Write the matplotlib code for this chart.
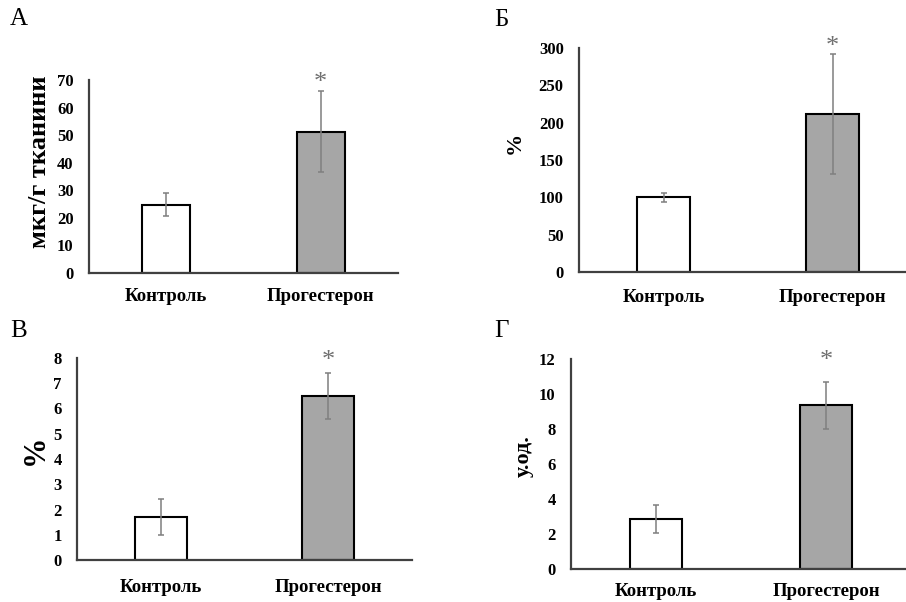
import numpy as np
import matplotlib.pyplot as plt

plt.rcParams['font.family'] = ['Liberation Serif', 'DejaVu Serif']

groups = ['Контроль', 'Прогестерон']
panel_letters = ['А', 'Б', 'В', 'Г']
ylabels = ['мкг/г тканини', '%', '%', 'у.од.']

vals_a = [24.8, 51.3]
err_a = [4.2, 14.6]
vals_b = [100, 212]
err_b = [6, 80.5]
vals_c = [1.7, 6.5]
err_c = [0.72, 0.92]
vals_d = [2.88, 9.35]
err_d = [0.8, 1.35]

ymax = [70, 300, 8, 12]
ystep = [10, 50, 1, 2]
star_y = [69, 302, 7.9, 11.9]

W, H = 906, 602
fig = plt.figure(figsize=(W / 100, H / 100), dpi=100)


def px_axes(x0, ytop, x1, ybot):
    return fig.add_axes([x0 / W, 1 - ybot / H, (x1 - x0) / W, (ybot - ytop) / H])


# axes boxes in pixels: left, top, right, bottom
boxes = [(89, 80, 398, 273), (579, 48, 917, 272), (77, 358, 412, 560), (571, 359, 911, 569)]
letter_pos = [(10, 19), (494, 20), (10, 331), (494, 331)]
ylab_pos = [(40, 162), (515, 143), (35, 450), (524, 456)]
ylab_size = [19, 16, 22, 16]
xpad = [11, 12, 14, 10]
data = [(vals_a, err_a), (vals_b, err_b), (vals_c, err_c), (vals_d, err_d)]

for i, (vals, errs) in enumerate(data):
    ax = px_axes(*boxes[i])
    x = np.arange(len(groups))
    ax.bar(x, vals, width=0.31, color=['white', '#a6a6a6'], edgecolor='black',
           linewidth=1.5, zorder=2)
    ax.errorbar(x, vals, yerr=errs, fmt='none', ecolor='#7f7f7f', elinewidth=1.1,
                capsize=2.5, capthick=1.1, zorder=3)
    ax.text(1, star_y[i], '*', ha='center', va='center', fontsize=19,
            color='#6f6f6f', clip_on=False)
    ax.set_xlim(-0.5, 1.5)
    ax.set_ylim(0, ymax[i])
    ax.set_yticks(np.arange(0, ymax[i] + ystep[i] / 2, ystep[i]))
    ax.set_xticks(x)
    ax.set_xticklabels(groups, fontsize=13.5, fontweight='bold')
    for lab in ax.get_yticklabels():
        lab.set_fontweight('bold')
        lab.set_fontsize(12)
    ax.tick_params(axis='both', length=0)
    ax.tick_params(axis='y', pad=11)
    ax.tick_params(axis='x', pad=xpad[i])
    for s in ['top', 'right']:
        ax.spines[s].set_visible(False)
    for s in ['left', 'bottom']:
        ax.spines[s].set_color('#404040')
        ax.spines[s].set_linewidth(1.6)
    ax.patch.set_alpha(0)

    lx, ly = letter_pos[i]
    fig.text(lx / W, 1 - ly / H, panel_letters[i], fontsize=18, ha='left', va='center')
    tx, ty = ylab_pos[i]
    fig.text(tx / W, 1 - ty / H, ylabels[i], fontsize=ylab_size[i], fontweight='bold',
             rotation=90, ha='center', va='center')

fig.savefig('out.png', dpi=100)
